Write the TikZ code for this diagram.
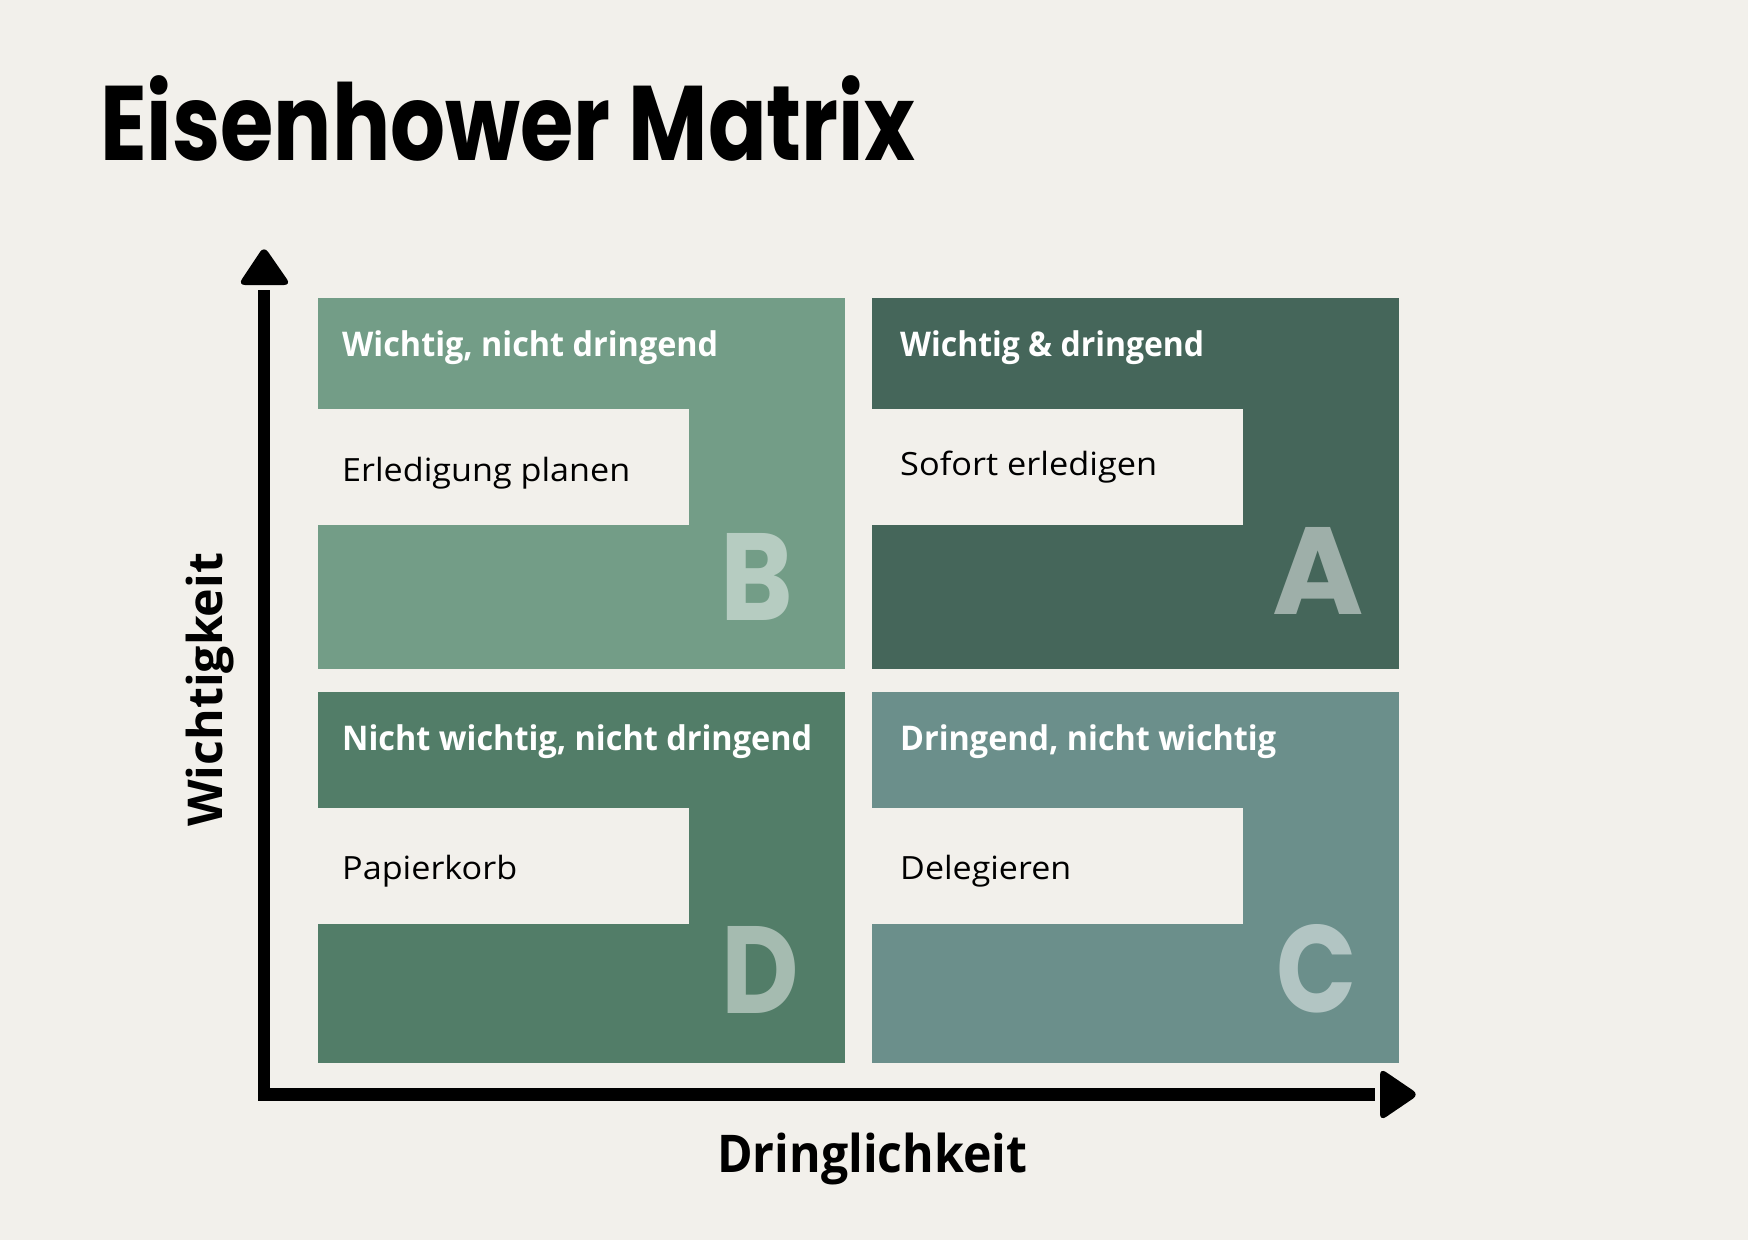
\documentclass[tikz,border=0pt]{standalone}
\usepackage{fontspec}
\usepackage{graphicx}
\setmainfont{Open Sans}
\newfontfamily\popfont{Poppins}
\newcommand\fitto[2]{\resizebox{#1}{\height}{#2}}
\definecolor{bgcol}{RGB}{242,240,235}
\definecolor{colA}{RGB}{69,102,90}
\definecolor{colB}{RGB}{115,157,135}
\definecolor{colC}{RGB}{107,143,139}
\definecolor{colD}{RGB}{82,125,104}
\begin{document}
\begin{tikzpicture}[x=1pt,y=-1pt,
  quad/.style={anchor=north west, inner sep=0, minimum width=527pt, minimum height=371pt},
  inbox/.style={anchor=north west, inner sep=0, fill=bgcol, minimum width=371pt, minimum height=116pt},
  head/.style={anchor=base west, inner sep=0, text=white, font=\bfseries\fontsize{34}{40}\selectfont},
  body/.style={anchor=base west, inner sep=0, text=black, font=\fontsize{32}{38}\selectfont},
  bigletter/.style={anchor=base, inner sep=0, font=\popfont\bfseries\fontsize{124}{130}\selectfont},
  axislabel/.style={anchor=base west, inner sep=0, text=black, font=\bfseries},
  axisline/.style={line width=12.5pt, line join=miter, draw=black},
  tiphead/.style={fill=black, rounded corners=7pt}
]
\fill[bgcol] (0,0) rectangle (1748,1240);
\useasboundingbox (0,0) rectangle (1748,1240);

% title
\node[anchor=base west, inner sep=0] (title) at (100,160)
  {\fitto{815pt}{\popfont\bfseries\fontsize{106}{110}\selectfont Eisenhower Matrix}};

% quadrants
\node[quad, fill=colB] (qB) at (318,298) {};
\node[quad, fill=colA] (qA) at (872,298) {};
\node[quad, fill=colD] (qD) at (318,692) {};
\node[quad, fill=colC] (qC) at (872,692) {};

\node[inbox] (iB) at (qB.north west) [yshift=-111pt] {};
\node[inbox] (iA) at (qA.north west) [yshift=-111pt] {};
\node[inbox] (iD) at (qD.north west) [yshift=-116pt] {};
\node[inbox] (iC) at (qC.north west) [yshift=-116pt] {};

\node[head] (hB) at (342,356) {\fitto{376pt}{Wichtig, nicht dringend}};
\node[head] (hA) at (900,356) {\fitto{304pt}{Wichtig \& dringend}};
\node[head] (hD) at (342,750) {\fitto{470pt}{Nicht wichtig, nicht dringend}};
\node[head] (hC) at (900,750) {\fitto{376pt}{Dringend, nicht wichtig}};

\node[body] (tB) at (342,481) {\fitto{288pt}{Erledigung planen}};
\node[body] (tA) at (900,475) {\fitto{257pt}{Sofort erledigen}};
\node[body] (tD) at (342,879) {\fitto{175pt}{Papierkorb}};
\node[body] (tC) at (900,879) {\fitto{171pt}{Delegieren}};

\node[bigletter, text=white!48!colB] (lB) at (757,620) {\scalebox{0.89}[1]{B}};
\node[bigletter, text=white!48!colA] (lA) at (1318,614) {A};
\node[bigletter, text=white!48!colD] (lD) at (760,1013) {\scalebox{0.86}[1]{D}};
\node[bigletter, text=white!48!colC] (lC) at (1317,1012) {\scalebox{0.85}[1]{C}};

% axes
\coordinate (ytip) at (264,246);
\coordinate (ybase) at (264,290);
\coordinate (origin) at (264,1094.5);
\coordinate (xbase) at (1375,1094.5);
\coordinate (xtip) at (1419,1094.5);
\draw[axisline] (ybase) -- (origin) -- (xbase);
\fill[tiphead] (238,285) -- (ytip) -- (291,285) -- cycle;
\fill[tiphead] (1380,1068) -- (xtip) -- (1380,1121) -- cycle;

\node[axislabel, rotate=90] (ylab) at (222,827)
  {\fitto{274pt}{\fontsize{48}{52}\selectfont Wichtigkeit}};
\node[axislabel] (xlab) at (717,1172)
  {\fitto{310pt}{\fontsize{52}{56}\selectfont Dringlichkeit}};
\end{tikzpicture}
\end{document}
